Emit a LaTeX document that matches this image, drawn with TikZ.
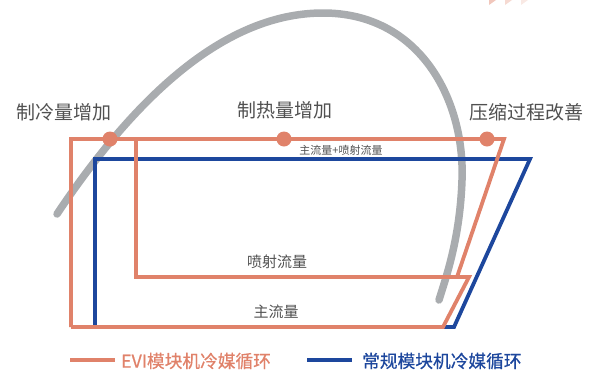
\documentclass[tikz,border=0pt]{standalone}
\usepackage{fontspec}
\setmainfont{Noto Sans CJK SC}
\newfontfamily\legfont[FakeBold=0.6]{Noto Sans CJK SC}
\definecolor{evi}{HTML}{E0826A}
\definecolor{norm}{HTML}{1D479D}
\definecolor{dome}{HTML}{A9ACAF}
\definecolor{txt}{HTML}{505050}
\begin{document}
\begin{tikzpicture}[x=1pt,y=-1pt,line join=miter,
	lbl/.style={text=txt,inner sep=0pt,font=\fontsize{19}{19}\selectfont},
	flow/.style={text=txt,inner sep=0pt,font=\fontsize{15}{15}\selectfont},
	leg/.style={inner sep=0pt,anchor=west,font=\legfont\fontsize{17.7}{18}\selectfont}]
		\useasboundingbox (0,0) rectangle (599,370);
		% faint marks at the top edge
		\fill[evi!45] (489,0)--(496,0)--(489,5)--cycle;
		\fill[evi!30] (505,0)--(512,0)--(505,5)--cycle;
		\fill[evi!18] (521,0)--(528,0)--(521,5)--cycle;
		% saturation dome
		\draw[dome,line width=7.5pt,line cap=round] (57,214) .. controls (130,105) and (220,13) .. (323,13) .. controls (420,13) and (465,100) .. (462,180) .. controls (460,240) and (445,280) .. (439,300);
		% conventional cycle
		\coordinate (b1) at (95,159);
		\coordinate (b2) at (530,159);
		\coordinate (b3) at (454,327);
		\coordinate (b4) at (95,327);
		\draw[norm,line width=3.8pt] (b1)--(b2)--(b3)--(b4)--cycle;
		% EVI cycle
		\coordinate (o1) at (71,139);
		\coordinate (o2) at (504,139);
		\coordinate (o3) at (457,277);
		\coordinate (o4) at (469,277);
		\coordinate (o5) at (443,327);
		\coordinate (o6) at (71,327);
		\coordinate (i1) at (136,139);
		\coordinate (i2) at (136,277);
		\draw[evi,line width=3.8pt] (o6)--(o1)--(o2)--(o3);
		\draw[evi,line width=3.8pt] (i1)--(i2)--(o4)--(o5)--(o6);
		\fill[evi] (110,139) circle (7.5pt);
		\fill[evi] (284,139) circle (7.5pt);
		\fill[evi] (487,139) circle (7.5pt);
		% labels
		\node[lbl] (cool) at (64,112) {制冷量增加};
		\node[lbl] (heat) at (285,110) {制热量增加};
		\node[lbl] (comp) at (526,112) {压缩过程改善};
		\node[text=txt,inner sep=0pt,font=\fontsize{11}{11}\selectfont] (tot) at (341,150) {主流量+喷射流量};
		\node[flow] (inj) at (277,262) {喷射流量};
		\node[flow] (main) at (276,312) {主流量};
		% legend
		\coordinate (la) at (70,360);
		\coordinate (lb) at (115,360);
		\coordinate (lc) at (307,360);
		\coordinate (ld) at (352,360);
		\draw[evi,line width=3.8pt] (la)--(lb);
		\node[leg,text=evi] (legevi) at (121,361) {EVI模块机冷媒循环};
		\draw[norm,line width=3.8pt] (lc)--(ld);
		\node[leg,text=norm] (legnorm) at (362,361) {常规模块机冷媒循环};
\end{tikzpicture}
\end{document}
